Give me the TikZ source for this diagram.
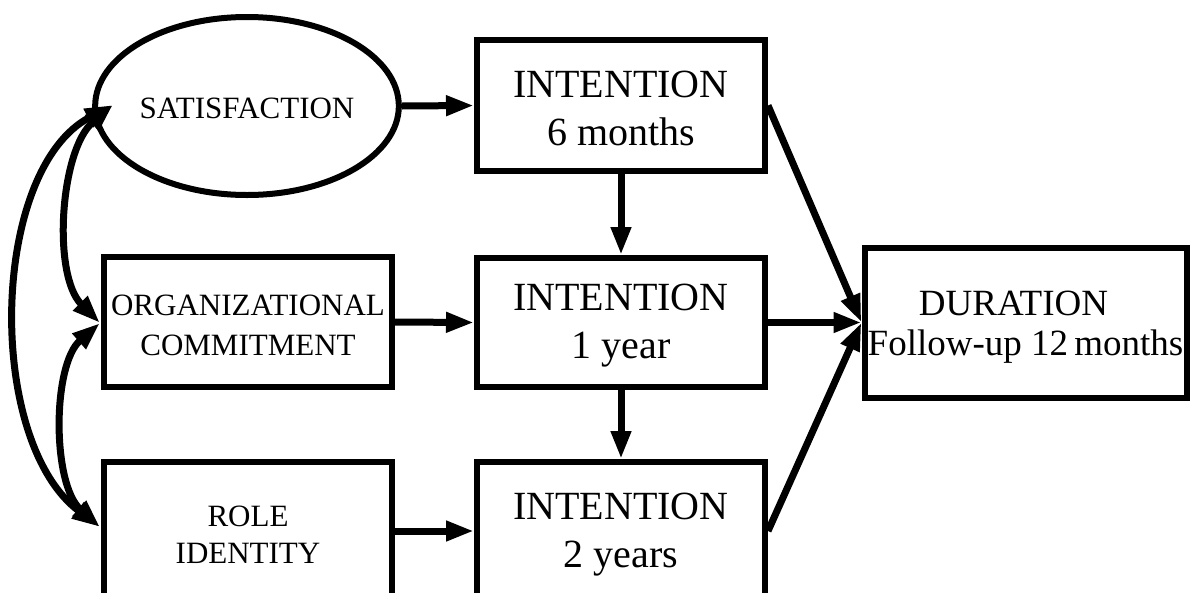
\documentclass[tikz,border=0pt]{standalone}
\usepackage{fontspec}
\setmainfont{Liberation Serif}
\usetikzlibrary{arrows.meta,shapes.geometric}
\newcommand\mytopstrut[1]{\rule{0pt}{#1}}
\begin{document}
\begin{tikzpicture}[x=1pt,y=-1pt,
  box/.style={draw=black,line width=6pt,rectangle,inner sep=0pt,align=center,fill=white},
  oval/.style={draw=black,line width=6pt,ellipse,inner sep=0pt,align=center},
  small/.style={font=\fontsize{31}{40}\selectfont},
  big/.style={font=\fontsize{40}{48}\selectfont},
  mid/.style={font=\fontsize{37}{40}\selectfont},
  arr/.style={line width=7pt,-{Triangle[length=28pt,width=19pt]}},
  darr/.style={line width=7pt,{Triangle[length=28pt,width=19pt]}-{Triangle[length=28pt,width=19pt]}}
]
\useasboundingbox (0,0) rectangle (1191,592);
\clip (0,0) rectangle (1191,592);
\fill[white] (0,0) rectangle (1191,592);

\node[oval,small,minimum width=260pt,minimum height=178pt] (sat) at (247,106) {\mytopstrut{26pt}SATISFACTION};
\node[box,small,minimum width=288pt,minimum height=130pt] (org) at (248,322) {\mytopstrut{28pt}ORGANIZATIONAL\\COMMITMENT};
\node[box,font=\fontsize{31}{37}\selectfont,minimum width=288pt,minimum height=138pt] (role) at (248,531) {\mytopstrut{28pt}ROLE\\IDENTITY};

\node[box,big,minimum width=288pt,minimum height=131pt] (int6) at (621,105.5) {\mytopstrut{33pt}INTENTION\\6 months};
\node[box,big,minimum width=288pt,minimum height=129pt] (int1) at (621,322.5) {\mytopstrut{33pt}INTENTION\\1 year};
\node[box,big,minimum width=288pt,minimum height=138pt] (int2) at (621,531) {\mytopstrut{33pt}INTENTION\\2 years};

\node[box,mid,minimum width=322pt,minimum height=150pt] (dur) at (1025.5,322.5) {\mytopstrut{33pt}DURATION\hbox to 24pt{}\\Follow-up 12\,months};

\draw[arr] (sat.east) -- (int6.west);
\draw[arr] (org.east) -- (int1.west);
\draw[arr] (role.east) -- (int2.west);
\draw[arr] (int6.south) -- (int1.north);
\draw[arr] (int1.south) -- (int2.north);
\draw[arr] (int6.east) -- (dur.west);
\draw[arr] (int1.east) -- (dur.west);
\draw[arr] (int2.east) -- (dur.west);

\coordinate (satL) at (113,105);
\coordinate (orgL) at (100,323);
\coordinate (roleL) at (100,527);
\draw[darr] (satL) .. controls (60,150) and (52,275) .. (orgL);
\draw[darr] (orgL) .. controls (52,365) and (52,484) .. (roleL);
\draw[darr] (satL) .. controls (-10,170) and (-15,440) .. (roleL);
\end{tikzpicture}
\end{document}
